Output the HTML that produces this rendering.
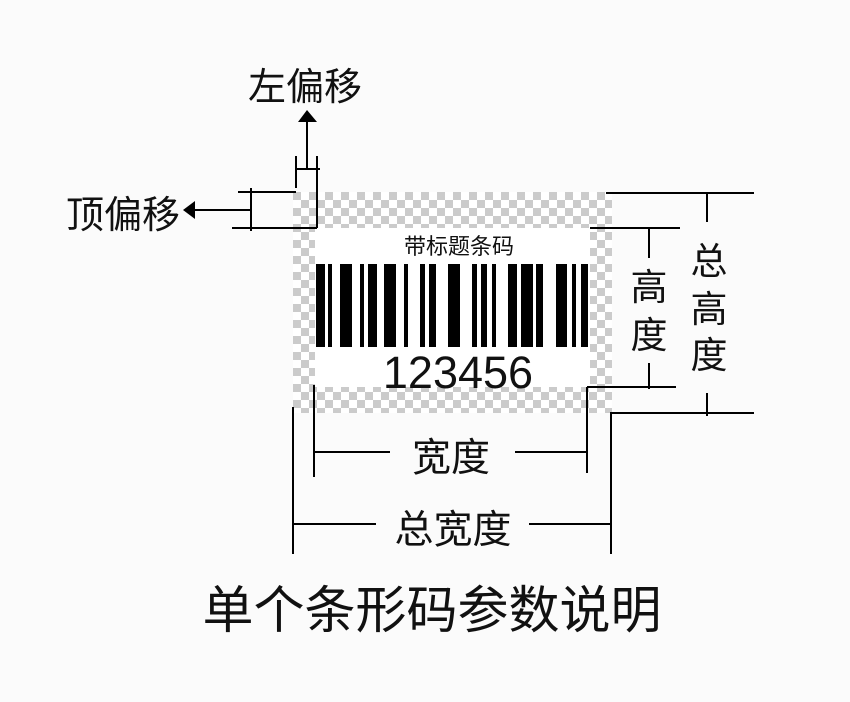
<!DOCTYPE html>
<html><head><meta charset="utf-8"><style>
html,body{margin:0;padding:0;background:#fbfbfb;}
svg{display:block}
text{font-family:"Liberation Sans","Noto Sans CJK SC",sans-serif;fill:#111}
</style></head><body>
<svg width="850" height="702" viewBox="0 0 850 702" xmlns="http://www.w3.org/2000/svg">
<defs>
<pattern id="ck" x="293" y="192" width="16" height="16" patternUnits="userSpaceOnUse">
<rect width="16" height="16" fill="#fff"/>
<rect width="8" height="8" fill="#cbcbcb"/>
<rect x="8" y="8" width="8" height="8" fill="#cbcbcb"/>
</pattern>
</defs>
<rect x="293" y="192" width="319" height="221" fill="url(#ck)"/>
<rect x="315" y="228" width="275" height="159" fill="#fff"/>
<text x="459" y="254" font-size="22" text-anchor="middle">带标题条码</text>
<g fill="#000">
<rect x="316" y="264" width="9" height="83"/><rect x="328" y="264" width="4" height="83"/>
<rect x="340" y="264" width="12" height="83"/><rect x="360" y="264" width="4" height="83"/>
<rect x="368" y="264" width="9" height="83"/><rect x="384" y="264" width="12" height="83"/>
<rect x="404" y="264" width="4" height="83"/><rect x="420" y="264" width="5" height="83"/>
<rect x="429" y="264" width="7" height="83"/><rect x="448" y="264" width="12" height="83"/>
<rect x="472" y="264" width="5" height="83"/><rect x="481" y="264" width="6" height="83"/>
<rect x="492" y="264" width="4" height="83"/><rect x="508" y="264" width="9" height="83"/>
<rect x="521" y="264" width="12" height="83"/><rect x="536" y="264" width="7" height="83"/>
<rect x="556" y="264" width="11" height="83"/><rect x="572" y="264" width="4" height="83"/>
<rect x="581" y="264" width="7" height="83"/>
</g>
<text x="458" y="388" font-size="45" text-anchor="middle">123456</text>
<g stroke="#000" stroke-width="2" fill="none">
<line x1="296" y1="156" x2="296" y2="188"/><line x1="317" y1="156" x2="317" y2="228"/>
<line x1="295" y1="169" x2="320" y2="169"/><line x1="307" y1="169" x2="307" y2="120"/>
<line x1="238" y1="192" x2="296" y2="192"/><line x1="232" y1="228" x2="317" y2="228"/>
<line x1="251" y1="188" x2="251" y2="231"/><line x1="251" y1="210" x2="192" y2="210"/>
<line x1="606" y1="193" x2="754" y2="193"/><line x1="590" y1="228" x2="680" y2="228"/>
<line x1="649" y1="228" x2="649" y2="258"/><line x1="649" y1="363" x2="649" y2="389"/>
<line x1="590" y1="387" x2="676" y2="387"/>
<line x1="707" y1="193" x2="707" y2="222"/><line x1="707" y1="393" x2="707" y2="416"/>
<line x1="610" y1="413" x2="754" y2="413"/>
<line x1="611" y1="412" x2="611" y2="554"/>
<line x1="314" y1="385" x2="314" y2="477"/><line x1="314" y1="452" x2="390" y2="452"/>
<line x1="515" y1="452" x2="587" y2="452"/><line x1="587" y1="387" x2="587" y2="473"/>
<line x1="587" y1="387" x2="612" y2="387"/>
<line x1="293" y1="407" x2="293" y2="554"/><line x1="293" y1="524" x2="376" y2="524"/>
<line x1="529" y1="524" x2="611" y2="524"/>
</g>
<polygon points="307,110 298,122 317,122" fill="#000"/>
<polygon points="183,210 195,201 195,219" fill="#000"/>
<text x="305" y="100" font-size="38" text-anchor="middle">左偏移</text>
<text x="123" y="228" font-size="38" text-anchor="middle">顶偏移</text>
<text x="649" y="300" font-size="37" text-anchor="middle">高</text>
<text x="649" y="348" font-size="37" text-anchor="middle">度</text>
<text x="709" y="274" font-size="37" text-anchor="middle">总</text>
<text x="709" y="322" font-size="37" text-anchor="middle">高</text>
<text x="709" y="368" font-size="37" text-anchor="middle">度</text>
<text x="451" y="471" font-size="39" text-anchor="middle">宽度</text>
<text x="453" y="543" font-size="39" text-anchor="middle">总宽度</text>
<text x="432" y="628" font-size="51" text-anchor="middle">单个条形码参数说明</text>
</svg>
</body></html>
